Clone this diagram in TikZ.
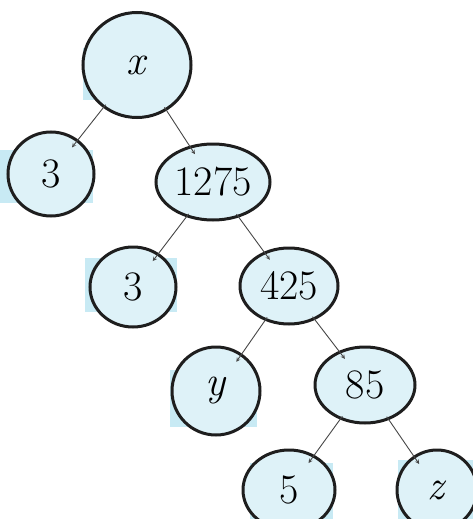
\documentclass[tikz,border=0pt]{standalone}
\usepackage{tikz}
\usetikzlibrary{shapes.geometric}
\definecolor{paleblue}{RGB}{200,234,244}
\definecolor{ink}{RGB}{30,30,30}
\tikzset{
  knot/.style={ellipse,draw=ink,line width=3pt,fill=paleblue!60,inner sep=0pt,
    font=\fontsize{42}{42}\selectfont},
  branch/.style={draw=gray!55!black,line width=0.9pt,->,>=stealth,shorten >=-10pt,shorten <=-4pt},
  patch/.style={fill=paleblue,draw=none}
}

\begin{document}
\begin{tikzpicture}[x=1pt,y=-1pt]
  \useasboundingbox (0,0) rectangle (473,519);
  % pale highlights behind the labels
  \fill[patch] (83,48) rectangle (172,100);
  \fill[patch] (0,150) rectangle (93,203);
  \fill[patch] (85,258) rectangle (177,312);
  \fill[patch] (170,370) rectangle (257,427);
  \fill[patch] (250,463) rectangle (333,519);
  \fill[patch] (398,460) rectangle (473,519);

  \node[knot,minimum width=108pt,minimum height=105pt] (root) at (137,65) {\textit{x}};
  \node[knot,minimum width=86pt,minimum height=84pt] (threeA) at (51,174) {3};
  \node[knot,minimum width=114pt,minimum height=76pt] (n1275) at (213,182) {1275};
  \node[knot,minimum width=86pt,minimum height=80pt] (threeB) at (133,287) {3};
  \node[knot,minimum width=98pt,minimum height=76pt] (n425) at (289,286) {425};
  \node[knot,minimum width=88pt,minimum height=88pt] (yy) at (216,391) {\textit{y}};
  \node[knot,minimum width=100pt,minimum height=76pt] (n85) at (365,385) {85};
  \node[knot,minimum width=92pt,minimum height=80pt] (five) at (289,490) {5};
  \node[knot,minimum width=80pt,minimum height=80pt] (zz) at (437,490) {\textit{z}};

  \draw[branch] (root) -- (threeA);
  \draw[branch] (root) -- (n1275);
  \draw[branch] (n1275) -- (threeB);
  \draw[branch] (n1275) -- (n425);
  \draw[branch] (n425) -- (yy);
  \draw[branch] (n425) -- (n85);
  \draw[branch] (n85) -- (five);
  \draw[branch] (n85) -- (zz);
\end{tikzpicture}
\end{document}
